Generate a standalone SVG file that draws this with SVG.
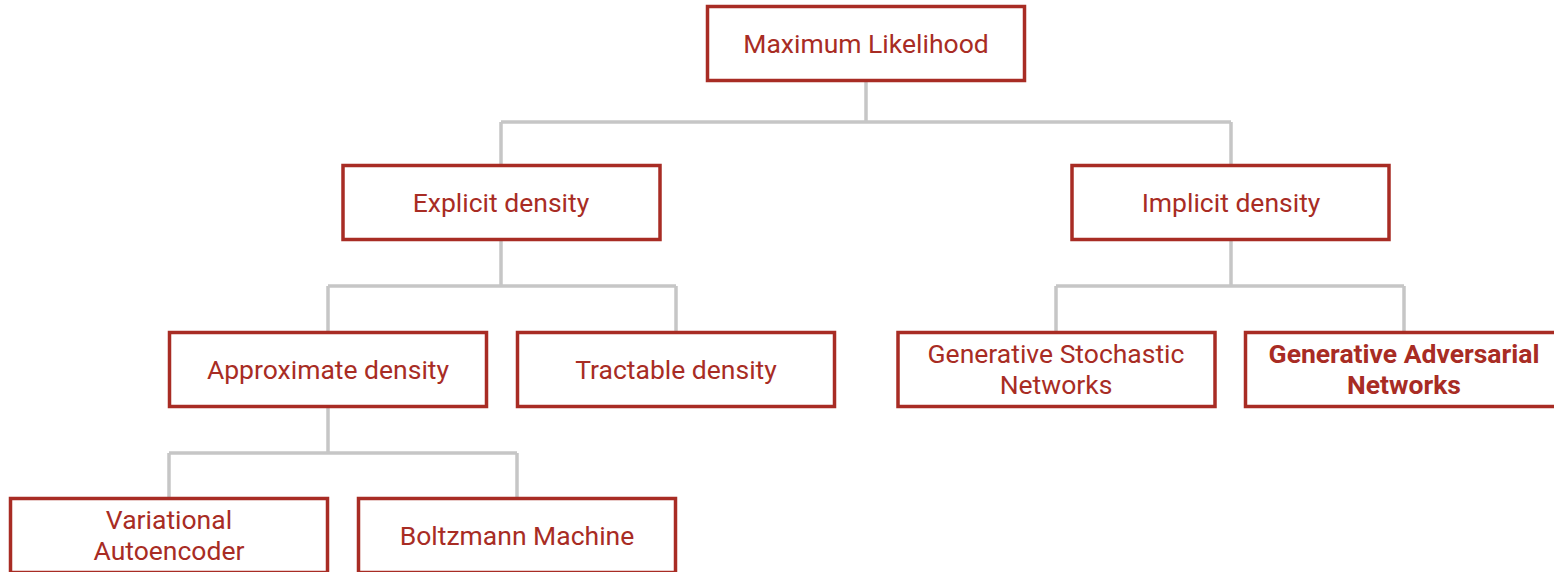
<svg xmlns="http://www.w3.org/2000/svg" width="1554" height="572" viewBox="0 0 1554 572">
  <style>
    .box { fill: #ffffff; stroke: #a82c24; stroke-width: 3.5; }
    .lbl { font-family: Roboto, "Liberation Sans", sans-serif; font-size: 26.5px; fill: #a82c24; text-anchor: middle; }
    .bold { font-weight: bold; }
    .wire { fill: none; stroke: #c6c6c6; stroke-width: 3.5; }
  </style>
  <rect width="1554" height="572" fill="#ffffff"/>

  <!-- tree connectors -->
  <g id="connectors">
    <path class="wire" d="M866 81 V122 M501 122 H1231 M501 122 V165 M1231 122 V165"/>
    <path class="wire" d="M501 240 V286 M328 286 H676 M328 286 V332 M676 286 V332"/>
    <path class="wire" d="M1231 240 V286 M1056 286 H1404 M1056 286 V332 M1404 286 V332"/>
    <path class="wire" d="M328 407 V453 M169 453 H517 M169 453 V498 M517 453 V498"/>
  </g>

  <g id="maximum-likelihood">
    <rect class="box" x="707.5" y="6.5" width="317" height="74"/>
    <text class="lbl" x="866" y="52.5">Maximum Likelihood</text>
  </g>
  <g id="explicit-density">
    <rect class="box" x="343" y="165.5" width="317" height="74"/>
    <text class="lbl" x="501" y="211.5">Explicit density</text>
  </g>
  <g id="implicit-density">
    <rect class="box" x="1072" y="165.5" width="317" height="74"/>
    <text class="lbl" x="1231" y="211.5">Implicit density</text>
  </g>
  <g id="approximate-density">
    <rect class="box" x="169.5" y="332.5" width="317" height="74"/>
    <text class="lbl" x="328" y="378.5">Approximate density</text>
  </g>
  <g id="tractable-density">
    <rect class="box" x="517.5" y="332.5" width="317" height="74"/>
    <text class="lbl" x="676" y="378.5">Tractable density</text>
  </g>
  <g id="generative-stochastic-networks">
    <rect class="box" x="898" y="332.5" width="317" height="74"/>
    <text class="lbl" x="1056" y="362.5">Generative Stochastic</text>
    <text class="lbl" x="1056" y="393.5">Networks</text>
  </g>
  <g id="generative-adversarial-networks">
    <rect class="box" x="1245.5" y="332.5" width="317" height="74"/>
    <text class="lbl bold" x="1404" y="362.5">Generative Adversarial</text>
    <text class="lbl bold" x="1404" y="393.5">Networks</text>
  </g>
  <g id="variational-autoencoder">
    <rect class="box" x="10.5" y="498.5" width="317" height="74"/>
    <text class="lbl" x="169" y="528.5">Variational</text>
    <text class="lbl" x="169" y="559.5">Autoencoder</text>
  </g>
  <g id="boltzmann-machine">
    <rect class="box" x="358.5" y="498.5" width="317" height="74"/>
    <text class="lbl" x="517" y="544.5">Boltzmann Machine</text>
  </g>
</svg>
